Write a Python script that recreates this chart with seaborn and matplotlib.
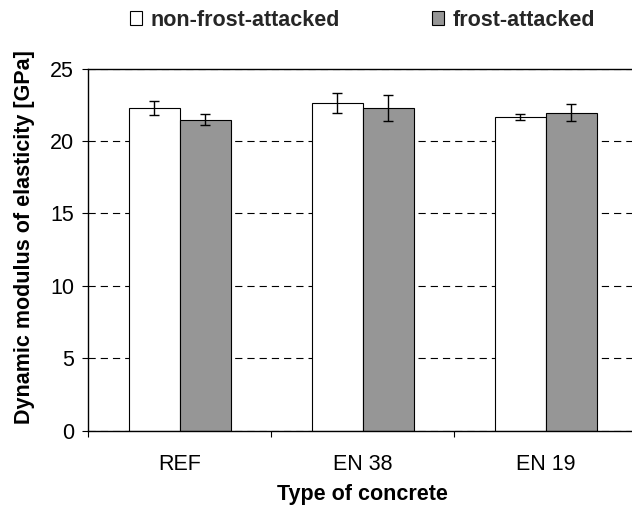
import numpy as np
import pandas as pd
import seaborn as sns
import matplotlib
matplotlib.use("Agg")
import matplotlib.pyplot as plt

# ---- data ----
concrete = ["REF", "EN 38", "EN 19"]
series = ["non-frost-attacked", "frost-attacked"]
non_frost = [22.29, 22.62, 21.64]
non_frost_err = [0.47, 0.69, 0.20]
frost = [21.48, 22.29, 21.97]
frost_err = [0.40, 0.88, 0.61]
y_ticks = [0, 5, 10, 15, 20, 25]

df = pd.DataFrame({
    "Type": concrete * 2,
    "Condition": [series[0]] * len(concrete) + [series[1]] * len(concrete),
    "E": non_frost + frost,
})

sns.set_style("ticks")
plt.rcParams["font.family"] = ["Liberation Sans", "DejaVu Sans"]
FS = 15.5

fig = plt.figure(figsize=(6.32, 5.11), dpi=100)
ax = fig.add_axes([88.3 / 632, 80.5 / 511, 549 / 632, 361.8 / 511])

sns.barplot(data=df, x="Type", y="E", hue="Condition", order=concrete,
            hue_order=series, palette=["white", "#969696"], saturation=1,
            width=0.56, errorbar=None, edgecolor="black", linewidth=0.8, ax=ax)

for cont, errs in zip(ax.containers, [non_frost_err, frost_err]):
    xs = [p.get_x() + p.get_width() / 2 for p in cont]
    ys = [p.get_height() for p in cont]
    ax.errorbar(xs, ys, yerr=errs, fmt="none", ecolor="black",
                elinewidth=1.0, capsize=3.3, capthick=1.0, zorder=5)

ax.set_ylim(0, 25)
ax.set_xlim(-0.5, 2.5)
ax.set_yticks(y_ticks)
ax.yaxis.grid(True, linestyle=(0, (6.5, 4.5)), color="black", linewidth=0.8)
ax.xaxis.grid(False)
ax.set_axisbelow(True)

ax.set_xticks(range(len(concrete)))
ax.set_xticklabels(concrete)
ax.set_xticks([i - 0.5 for i in range(len(concrete) + 1)], minor=True)
ax.tick_params(axis="x", which="major", length=0, pad=17, labelsize=FS, colors="black")
ax.tick_params(axis="x", which="minor", length=4.2, width=0.8, direction="out", color="black")
ax.tick_params(axis="y", which="major", length=4.3, width=0.8, direction="out",
               pad=6, labelsize=FS, colors="black")

for side in ["left", "bottom", "top"]:
    ax.spines[side].set_visible(True)
    ax.spines[side].set_color("black")
    ax.spines[side].set_linewidth(1.0)
ax.spines["right"].set_visible(False)

ax.set_xlabel("Type of concrete", fontsize=FS, fontweight="bold", color="black")
ax.set_ylabel("Dynamic modulus of elasticity [GPa]", fontsize=FS,
              fontweight="bold", color="black")
ax.xaxis.set_label_coords(0.5, -0.147)
ax.yaxis.set_label_coords(-0.097, 0.535)

sns.move_legend(ax, loc="center left", bbox_to_anchor=(130 / 632, 1 - 20 / 511),
                bbox_transform=fig.transFigure, ncol=2, frameon=False, title=None,
                fontsize=FS, prop={"weight": "bold", "size": FS},
                handlelength=0.55, handleheight=0.6, handletextpad=0.4,
                columnspacing=4.3, borderpad=0, borderaxespad=0)
for h in ax.get_legend().legend_handles:
    h.set_edgecolor("black")
    h.set_linewidth(0.8)

fig.savefig("out.png", dpi=100)
